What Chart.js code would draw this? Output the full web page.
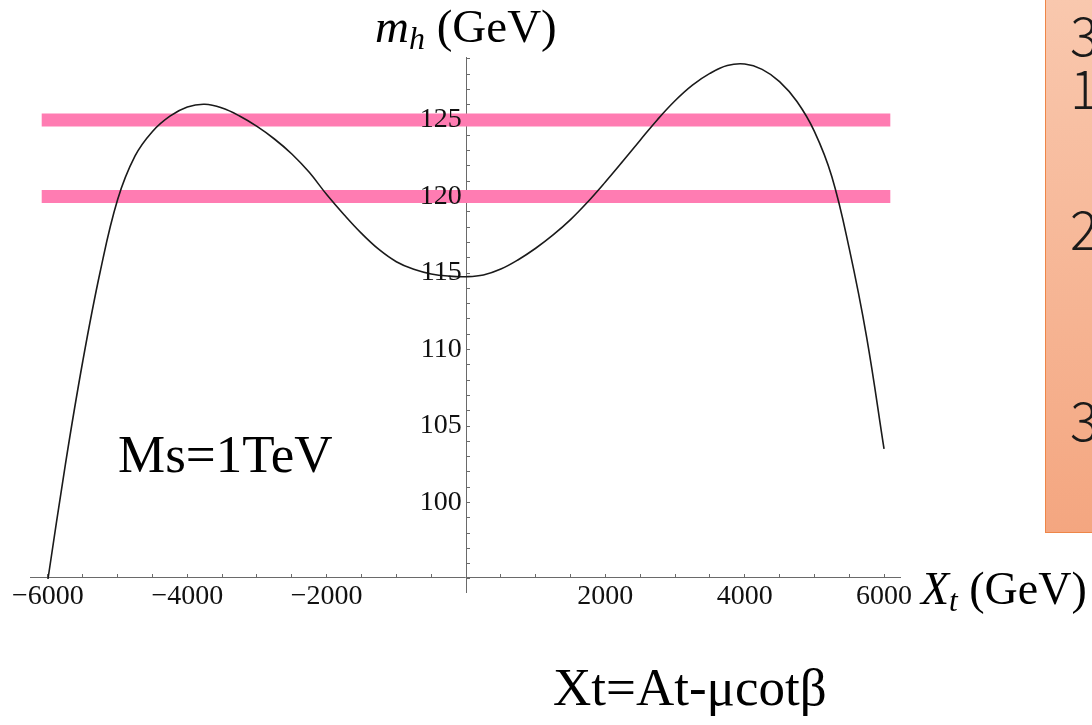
<!DOCTYPE html>
<html>
<head>
<meta charset="utf-8">
<title>m_h vs Xt</title>
<script src="https://cdn.jsdelivr.net/npm/chart.js@4.4.1/dist/chart.umd.min.js"></script>
<style>
  html, body { margin: 0; padding: 0; background: #fff; }
  #wrap { position: relative; width: 1092px; height: 725px; overflow: hidden; }
  #chart { position: absolute; left: 0; top: 0; }
  .serif { position: absolute; font-family: "Liberation Serif", "Times New Roman", serif; line-height: 1; color: #000; white-space: nowrap; }
  .sub { font-size: 0.68em; position: relative; top: 0.22em; font-style: italic; }
  #side { position: absolute; left: 1045px; top: -3px; width: 70px; height: 536px; box-sizing: border-box;
          border: 1.5px solid #ee8648; background: linear-gradient(#f9c8ae, #f4a680); }
  .digit { position: absolute; left: 24px; font-family: "Noto Sans CJK SC", "Noto Sans", sans-serif; font-weight: 300;
           font-size: 53px; line-height: 1; color: #1a1a1a; }
</style>
</head>
<body>
<div id="wrap">
  <canvas id="chart" width="1092" height="725"></canvas>

  <div class="serif" style="left:375px; top:3px; font-size:47px;"><i>m</i><span class="sub">h</span> (GeV)</div>
  <div class="serif" style="left:921px; top:566px; font-size:46px;"><i>X</i><span class="sub">t</span> (GeV)</div>
  <div class="serif" style="left:118px; top:428px; font-size:53px;">Ms=1TeV</div>
  <div class="serif" style="left:553px; top:661px; font-size:53px;">Xt=At-μcotβ</div>

  <div id="side">
    <div class="digit" style="top:9px;">3</div>
    <div class="digit" style="top:62px;">1</div>
    <div class="digit" style="top:203px;">2</div>
    <div class="digit" style="top:394px;">3</div>
  </div>
</div>

<script>
// Xt (GeV) and m_h (GeV)
const xt = [-6000, -5750, -5500, -5250, -5000, -4750, -4500, -4250, -4000,
            -3750, -3500, -3250, -3000, -2750, -2500, -2250, -2000,
            -1750, -1500, -1250, -1000, -750, -500, -250, 0,
            250, 500, 750, 1000, 1250, 1500, 1750, 2000,
            2250, 2500, 2750, 3000, 3250, 3500, 3750, 4000,
            4250, 4500, 4750, 5000, 5250, 5500, 5750, 6000];
const mh = [95.0, 102.5, 109.25, 115.1, 119.8, 122.65, 124.25, 125.25, 125.85,
            126.03, 125.78, 125.26, 124.58, 123.76, 122.78, 121.58, 120.13,
            118.81, 117.59, 116.54, 115.74, 115.24, 114.94, 114.8, 114.76,
            114.87, 115.26, 115.87, 116.62, 117.49, 118.49, 119.66, 120.95,
            122.3, 123.68, 125.04, 126.26, 127.28, 128.05, 128.56, 128.66,
            128.31, 127.51, 126.21, 124.26, 121.31, 116.61, 110.81, 103.5];

// pink bands
const bandLevels = [125, 120];
const bandFrom = -6090;
const bandTo = 6090;

// tick labels
const xTickLabels = [-6000, -4000, -2000, 2000, 4000, 6000];
const yTickLabels = [100, 105, 110, 115, 120, 125];
const xTickStep = 500;

const xMin = -6258, xMax = 6229;
const yMin = 94.15, yMax = 129.12, yAxisAt = 95.07;

const tickFont = { family: "'Liberation Serif', 'Times New Roman', serif", size: 28 };

function fmtX(v) {
    return v < 0 ? '\u2212' + Math.abs(v) : String(v);
}

const datasets = [{
    data: xt.map((x, i) => ({ x: x, y: mh[i] })),
    borderColor: '#1a1a1a',
    borderWidth: 1.6,
    pointRadius: 0,
    tension: 0.4,
    fill: false,
    order: 0
}];
bandLevels.forEach(level => {
    datasets.push({
        data: [{ x: bandFrom, y: level }, { x: bandTo, y: level }],
        borderColor: '#ff7cb2',
        borderWidth: 13,
        borderCapStyle: 'butt',
        pointRadius: 0,
        fill: false,
        order: 1
    });
});

const ctx = document.getElementById('chart').getContext('2d');
const chart = new Chart(ctx, {
    type: 'line',
    data: { datasets: datasets },
    options: {
        responsive: false,
        animation: false,
        layout: { padding: { left: 30, right: 192, top: 57, bottom: 133 } },
        plugins: {
            legend: { display: false },
            tooltip: { enabled: false }
        },
        scales: {
            x: {
                type: 'linear',
                min: xMin,
                max: xMax,
                position: { y: yAxisAt },
                // stepSize + min/max makes chart.js respread the ticks, so set them here
                afterBuildTicks: scale => {
                    const ticks = [];
                    for (let v = -6000; v <= 6000; v += xTickStep) ticks.push({ value: v });
                    scale.ticks = ticks;
                },
                grid: { drawOnChartArea: false, drawTicks: true, tickLength: -4, color: '#6a6a6a', tickWidth: 1 },
                border: { display: true, color: '#6a6a6a', width: 1 },
                ticks: {
                    autoSkip: false,
                    maxRotation: 0,
                    padding: 6,
                    color: '#111',
                    font: tickFont,
                    callback: v => xTickLabels.includes(v) ? fmtX(v) : ''
                }
            },
            y: {
                type: 'linear',
                min: yMin,
                max: yMax,
                position: { x: 0 },
                grid: { drawOnChartArea: false, drawTicks: true, tickLength: -4, color: '#6a6a6a', tickWidth: 1 },
                border: { display: true, color: '#6a6a6a', width: 1 },
                ticks: {
                    stepSize: 1,
                    includeBounds: false,
                    autoSkip: false,
                    font: tickFont,
                    callback: () => ''
                }
            },
            // second y scale only for the labels, so they sit a few px left of the axis
            yLabels: {
                type: 'linear',
                axis: 'y',
                min: yMin,
                max: yMax,
                position: { x: -60 },
                grid: { display: false },
                border: { display: false },
                ticks: {
                    z: 1,
                    stepSize: 1,
                    includeBounds: false,
                    autoSkip: false,
                    color: '#111',
                    font: tickFont,
                    callback: v => yTickLabels.includes(v) ? String(v) : ''
                }
            }
        }
    }
});
</script>
</body>
</html>
